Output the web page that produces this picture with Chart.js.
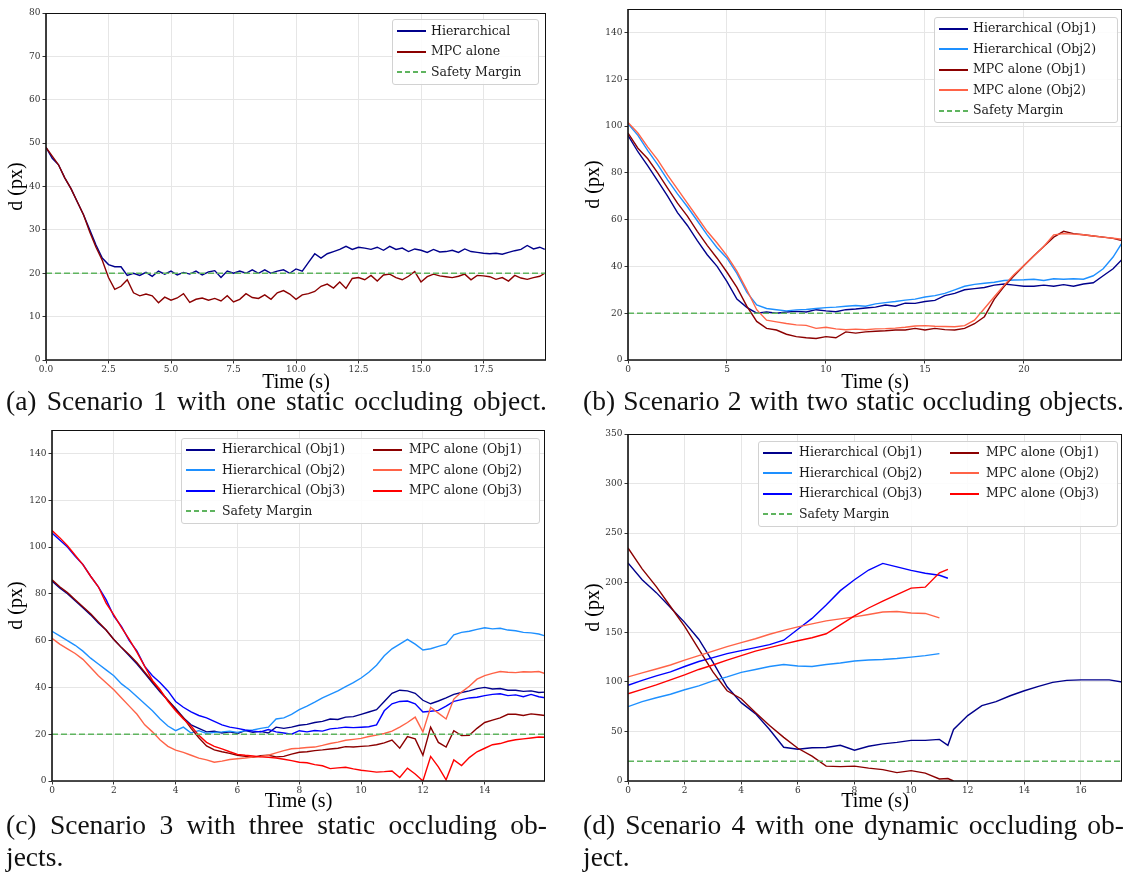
<!DOCTYPE html>
<html>
<head>
<meta charset="utf-8">
<script src="https://cdn.jsdelivr.net/npm/chart.js@4.4.1/dist/chart.umd.min.js"></script>
<style>
  html, body { margin:0; padding:0; background:#fff; }
  body { width:1130px; height:873px; position:relative; overflow:hidden; }
  .panel { position:absolute; width:560px; height:395px; }
  .panel canvas { display:block; }
  .cap { position:absolute; width:541px; font-family:'Liberation Serif', serif; font-size:27.5px; line-height:32px; color:#111;
         text-align:justify; text-align-last:justify; }
  .cap.last { text-align:left; text-align-last:left; }
  .legend { position:absolute; background:rgba(255,255,255,0.85); border:1px solid #d2d2d2; border-radius:3px; box-sizing:border-box; }
  .legend .h { position:absolute; height:2px; }
  .legend .t { position:absolute; font-family:'DejaVu Serif', serif; font-size:12.5px; line-height:16px; color:#1a1a1a; white-space:nowrap; }
</style>
</head>
<body>
<div class="panel" id="pA" style="left:0px;top:0px;"><canvas id="cA" width="560" height="395"></canvas></div>
<div class="panel" id="pB" style="left:570px;top:0px;"><canvas id="cB" width="560" height="395"></canvas></div>
<div class="panel" id="pC" style="left:0px;top:421px;"><canvas id="cC" width="560" height="395"></canvas></div>
<div class="panel" id="pD" style="left:570px;top:421px;"><canvas id="cD" width="560" height="395"></canvas></div>

<div class="cap" style="left:6px;top:384.7px;">(a) Scenario 1 with one static occluding object.</div>
<div class="cap" style="left:583px;top:384.7px;">(b) Scenario 2 with two static occluding objects.</div>
<div class="cap" style="left:6px;top:808.7px;">(c) Scenario 3 with three static occluding ob-</div>
<div class="cap last" style="left:6px;top:841.2px;">jects.</div>
<div class="cap" style="left:583px;top:808.7px;">(d) Scenario 4 with one dynamic occluding ob-</div>
<div class="cap last" style="left:583px;top:841.2px;">ject.</div>

<script>
// ---------------- DATA ----------------
const safetyMargin = 20;

// (a) Scenario 1
const timeA = [0,0.25,0.5,0.75,1,1.25,1.5,1.75,2,2.25,2.5,2.75,3,3.25,3.5,3.75,4,4.25,4.5,4.75,
  5,5.25,5.5,5.75,6,6.25,6.5,6.75,7,7.25,7.5,7.75,8,8.25,8.5,8.75,9,9.25,9.5,9.75,
  10,10.25,10.5,10.75,11,11.25,11.5,11.75,12,12.25,12.5,12.75,13,13.25,13.5,13.75,14,14.25,14.5,14.75,
  15,15.25,15.5,15.75,16,16.25,16.5,16.75,17,17.25,17.5,17.75,18,18.25,18.5,18.75,19,19.25,19.5,19.75,19.95];
const hierA = [49,46.5,45,42,39.5,36.5,33.5,30,26.5,23.5,22,21.5,21.5,19.5,20,19.5,20.2,19.3,20.5,19.8,
  20.5,19.6,20.2,19.8,20.5,19.6,20.3,20.6,19,20.5,20,20.5,20,20.8,20,20.8,20,20.5,20.8,20,
  21,20.5,22.5,24.5,23.5,24.5,25,25.5,26.2,25.5,26,25.8,25.5,26,25.3,26.2,25.5,25.8,25,25.6,
  25.3,24.8,25.5,24.9,25,25.3,24.8,25.6,25,24.8,24.6,24.5,24.6,24.4,24.8,25.2,25.5,26.4,25.6,26,25.5];
const mpcA = [49,47,45,42,39.5,36.5,33.5,29.5,26,23,19,16.3,17,18.5,15.5,14.8,15.2,14.8,13.2,14.5,
  13.8,14.3,15.3,13.3,14,14.3,13.8,14.2,13.6,14.8,13.4,14,15.3,14.4,14.2,15,14,15.5,16,15.2,
  14,15,15.3,15.8,17,17.5,16.6,18,16.5,18.8,19,18.5,19.5,18.2,19.6,19.8,19,18.5,19.3,20.4,
  18,19.2,19.8,19.4,19.2,19,19.3,19.8,18.5,19.5,19.4,19.2,18.6,19,18.2,19.5,18.9,18.6,19,19.3,20];

// (b) Scenario 2
const timeB = [0,0.5,1,1.5,2,2.5,3,3.5,4,4.5,5,5.5,6,6.5,7,7.5,8,8.5,9,9.5,
  10,10.5,11,11.5,12,12.5,13,13.5,14,14.5,15,15.5,16,16.5,17,17.5,18,18.5,19,19.5,
  20,20.5,21,21.5,22,22.5,23,23.5,24,24.5,24.95];
const hierB1 = [96,89,83,76.5,70,63,57.5,51,45,40,33.5,26,22.5,20,20.5,20,20.5,20.8,20.5,21.5,
  21,20.6,21.5,21.8,22.2,22.6,23.5,23,24.3,24.2,25,25.5,27.5,28.5,30,30.5,31,32,32.5,32,
  31.5,31.5,32,31.5,32.2,31.5,32.5,33,36,39,43];
const hierB2 = [101,96,89.5,83.5,77,71,65.5,59.5,53.5,48,43.5,37,29,23.5,22,21.5,21,21.4,21.6,22,
  22.4,22.6,23,23.3,23,24,24.5,25,25.6,26,26.9,27.5,28.5,30,31.5,32.3,32.8,33.2,34,34.2,
  34.3,34.5,34,34.7,34.5,34.7,34.5,36,39,44,50];
const mpcB1 = [97,90.5,86,80,73.5,67,61.5,55,49,43.5,37.5,31,23,16.5,13.5,12.8,11,10,9.5,9.2,
  10,9.5,12,11.5,12,12.3,12.5,12.8,12.8,13.5,12.8,13.5,13,12.8,13.5,15.5,18.5,26,31.5,36,
  40.4,44.5,48.5,52.5,55,54,53.5,53,52.5,52,51];
const mpcB2 = [101.5,97,91,85.5,79,73,67,61,55,50,44.5,38,30,21.5,17,16.3,15.6,15,14.8,13.5,
  14,13.3,12.9,13.2,12.9,13.3,13.4,13.6,14,14.5,14.7,14.4,14.3,14.2,14.7,17,22,27,32,36.5,
  40.4,44.5,48.5,53.5,54,53.8,53.5,53,52.5,52,51.6];

// (c) Scenario 3
const timeC = [0,0.25,0.5,0.75,1,1.25,1.5,1.75,2,2.25,2.5,2.75,3,3.25,3.5,3.75,4,4.25,4.5,4.75,
  5,5.25,5.5,5.75,6,6.25,6.5,6.75,7,7.25,7.5,7.75,8,8.25,8.5,8.75,9,9.25,9.5,9.75,
  10,10.25,10.5,10.75,11,11.25,11.5,11.75,12,12.25,12.5,12.75,13,13.25,13.5,13.75,14,14.25,14.5,14.75,
  15,15.25,15.5,15.75,15.95];
const hierC1 = [85.5,82.5,80,77,74,71,67.5,64.5,60.5,57,53.5,50,46,42,38,34.5,31,27,24,22.5,
  21,21.3,20.5,21,20.3,21.5,20.8,21.2,20.5,23,22.5,23,23.8,24.2,25,25.5,26.5,26.3,27.3,27.5,
  28.5,29.5,30.5,34,37.5,38.8,38.5,37.5,34.5,33,34.2,35.5,37,37.8,38.5,39.5,40,39.3,39.5,38.8,
  38.8,38.3,38.5,37.8,38];
const hierC2 = [64,62,60,58,55.5,52.5,50,47.5,45,41.5,39,36,33,30,26.5,23.5,21.5,23,20.5,21.5,
  20.3,20.8,21,21.3,20.8,21.5,21.8,22.5,23,26.5,27,28.5,30.5,32,33.7,35.5,37,38.5,40.3,42,
  44,46.5,49.5,53.5,56.5,58.5,60.5,58.5,56,56.5,57.5,58.5,62.5,63.5,64,64.8,65.5,65,65.3,64.5,
  64.2,63.5,63.3,62.8,62];
const hierC3 = [106,103,100,96,92.5,87.5,83,77.5,70.5,66,60,55.5,49,45,42,38.5,34,31.5,29.5,28,
  27,25.5,24,23,22.5,21.8,21.3,21,22,21,20.5,20,21.5,21,21.6,21.3,22.3,22.6,23,22.8,
  23,23.2,24,30,33,34,34.2,33,29.5,29.8,30.2,32,34,34.8,35.5,35.8,36.5,37,37.3,36.5,
  36.8,36,37,36,35.6];
const mpcC1 = [86,83,80.5,77.5,74.5,71.5,68,64.5,60.5,57,54,50.5,46.5,42.5,38.5,34.5,30.5,27,22.5,18.5,
  15,13.3,12.5,11.8,11,10.5,10.1,10.8,11,10.3,10.5,11.5,12.3,12.5,13,13.3,13.7,14,14.7,14.5,
  14.8,15,15.5,16.3,17.5,14,19,18,11,23,16.5,14.5,21.5,19.4,19.5,22.5,25,26,27,28.5,
  28.5,28,28.7,28.3,28];
const mpcC2 = [61,58.5,56.5,54.5,52,48.5,45,42,39,35.5,32,28.5,24,21,17.5,14.8,13.2,12.2,11,9.8,
  9,8,8.5,9.2,9.5,9.8,10.2,10.5,11,12,13,13.8,14,14.3,14.5,15.2,16,16.6,17.4,17.8,
  18.2,19,19.6,20.3,21.3,23,25,27.3,21,31.5,29,26.5,35,38,40.5,43.5,45,46,46.8,46.5,
  46.3,46.7,46.6,46.8,45.9];
const mpcC3 = [107,104,100.5,96.5,92.5,87.5,83,76,71,65.5,60.5,55,49,43,39,34,30,26.5,23.5,19.5,
  16.5,14.8,13.7,12.5,11.4,11,10.7,10.3,10.1,9.8,9.3,8.7,8,7.8,7,6.5,5.3,5.6,5.9,5.2,
  4.6,4.2,3.8,4,4.3,1.5,5.5,3,0,10.5,6,0.5,9,6.6,10,12.5,14,15.5,16,17,
  17.6,18,18.4,18.8,18.7];

// (d) Scenario 4
const timeD = [0,0.5,1,1.5,2,2.5,3,3.5,4,4.5,5,5.5,6,6.5,7,7.5,8,8.5,9,9.5,10,10.5,11,
  11.3,11.5,12,12.5,13,13.5,14,14.5,15,15.5,16,16.5,17,17.5];
const hierD1 = [220,203,190,175,160,143,120,95,79,68,52,34,32,33.5,33.8,36,31,35,37.5,39,41,41,42,
  36,52,66,76,80,86,91,95.5,99.5,101.5,102,102,102,99.7];
const hierD2 = [75,80,84,87.5,92,96,101,105,109.5,112.5,115.5,117.5,116,115.5,117.5,119,121,122,122.5,123.5,125,126.5,128.5,
  null,null,null,null,null,null,null,null,null,null,null,null,null,null];
const hierD3 = [96.5,101.5,106,110,115.5,120.5,124.5,128.5,131.5,134.5,137.5,142,153,164,177.5,192,203,212.8,219.5,216,212.5,209.5,207.5,
  204.5,null,null,null,null,null,null,null,null,null,null,null,null,null];
const mpcD1 = [235,214,196,176,156,133,110,91,83,69,56,44,33,25,15,14.5,15,13,11.5,8.5,10.5,8,2,
  2.5,0,null,null,null,null,null,null,null,null,null,null,null,null];
const mpcD2 = [105,109,113,117,122,126.5,131,135.5,139.5,143.5,148,152,155.5,158.5,161.5,163.5,165.5,168,170.5,171,169.5,169,164.5,
  null,null,null,null,null,null,null,null,null,null,null,null,null,null];
const mpcD3 = [88,92.5,97,102,107,112.5,117,122,126.5,131,134.5,138,141.5,144.5,148.5,157.5,166.5,174.5,181.5,188,194.5,195.5,210,
  213.5,null,null,null,null,null,null,null,null,null,null,null,null,null];

// Tick values and labels
const xTicksA = [0,2.5,5,7.5,10,12.5,15,17.5];
const xLabelsA = ['0.0','2.5','5.0','7.5','10.0','12.5','15.0','17.5'];
const yTicksA = [0,10,20,30,40,50,60,70,80];
const yLabelsA = ['0','10','20','30','40','50','60','70','80'];
const xTicksB = [0,5,10,15,20];
const xLabelsB = ['0','5','10','15','20'];
const yTicksBC = [0,20,40,60,80,100,120,140];
const yLabelsBC = ['0','20','40','60','80','100','120','140'];
const xTicksC = [0,2,4,6,8,10,12,14];
const xLabelsC = ['0','2','4','6','8','10','12','14'];
const xTicksD = [0,2,4,6,8,10,12,14,16];
const xLabelsD = ['0','2','4','6','8','10','12','14','16'];
const yTicksD = [0,50,100,150,200,250,300,350];
const yLabelsD = ['0','50','100','150','200','250','300','350'];

// ---------------- STYLE ----------------
const C = {
  hier1:'#00008B', hier2:'#1E90FF', hier3:'#0000FF',
  mpc1:'#8B0000', mpc2:'#FF6347', mpc3:'#FF0000', safety:'#5fb45f'
};
const SERIF = 'DejaVu Serif';
const TITLEF = 'Liberation Serif';

const framePlugin = {
  id: 'frame',
  afterDatasetsDraw(chart) {
    const {ctx, chartArea: a} = chart;
    ctx.save();
    ctx.strokeStyle = '#111';
    ctx.lineWidth = 1;
    ctx.beginPath();
    ctx.moveTo(a.left, a.top + 0.5); ctx.lineTo(a.right, a.top + 0.5);
    ctx.moveTo(a.right - 0.5, a.top); ctx.lineTo(a.right - 0.5, a.bottom);
    ctx.stroke();
    ctx.lineWidth = 1.6;
    ctx.beginPath();
    ctx.moveTo(a.left, a.top); ctx.lineTo(a.left, a.bottom);
    ctx.moveTo(a.left - 0.8, a.bottom); ctx.lineTo(a.right, a.bottom);
    ctx.stroke();
    ctx.restore();
  }
};

function makeChart(cfg) {
  const n = cfg.series.length;
  const datasets = cfg.series.map((s, i) => ({
    label: s.label,
    data: cfg.time.map((t, j) => ({x: t, y: s.values[j]})),
    borderColor: s.color,
    borderWidth: 1.4,
    pointRadius: 0,
    tension: 0,
    fill: false,
    spanGaps: false,
    order: n - i + 1
  }));
  datasets.push({
    label: 'Safety Margin',
    data: [{x: 0, y: safetyMargin}, {x: cfg.xMax, y: safetyMargin}],
    borderColor: C.safety,
    borderWidth: 1.5,
    borderDash: [6, 3],
    pointRadius: 0,
    order: 0
  });
  return new Chart(document.getElementById(cfg.canvas), {
    type: 'line',
    data: { datasets },
    plugins: [framePlugin],
    options: {
      responsive: false,
      animation: false,
      devicePixelRatio: 1,
      layout: { padding: { left: 0, right: cfg.padR, top: cfg.padT, bottom: 0 } },
      plugins: { legend: { display: false }, tooltip: { enabled: false } },
      scales: {
        x: {
          type: 'linear', min: 0, max: cfg.xMax,
          afterBuildTicks: s => { s.ticks = cfg.xTicks.map(v => ({value: v})); },
          afterFit: s => { s.height = 35; },
          ticks: {
            autoSkip: false, maxRotation: 0, padding: 1,
            font: { family: SERIF, size: 9 }, color: '#333',
            callback: v => cfg.xLabels[cfg.xTicks.indexOf(v)]
          },
          grid: { color: '#e6e6e6', lineWidth: 1, tickColor: '#333', tickLength: 3.5 },
          border: { display: false },
          title: { display: true, text: 'Time (s)', color: '#000',
                   font: { family: TITLEF, size: 20 }, padding: { top: 0, bottom: cfg.xTitlePad } }
        },
        y: {
          type: 'linear', min: 0, max: cfg.yMax,
          afterBuildTicks: s => { s.ticks = cfg.yTicks.map(v => ({value: v})); },
          afterFit: s => { s.width = cfg.yW; },
          ticks: {
            autoSkip: false, padding: 2,
            font: { family: SERIF, size: 9 }, color: '#333',
            callback: v => cfg.yLabels[cfg.yTicks.indexOf(v)]
          },
          grid: { color: '#e6e6e6', lineWidth: 1, tickColor: '#333', tickLength: 3.5 },
          border: { display: false },
          title: { display: true, text: 'd (px)', color: '#000',
                   font: { family: TITLEF, size: 20 }, padding: { top: cfg.yTitlePad, bottom: 0 } }
        }
      }
    }
  });
}

function makeLegend(box, items) {
  const lg = document.createElement('div');
  lg.className = 'legend';
  lg.style.left = box.left + 'px'; lg.style.top = box.top + 'px';
  lg.style.width = box.w + 'px'; lg.style.height = box.h + 'px';
  items.forEach(it => {
    const col = box.cols[it.col];
    const cy = box.row0 + it.row * box.pitch;
    const h = document.createElement('div');
    h.className = 'h';
    h.style.left = Math.round(col.hx - 1) + 'px'; h.style.width = col.hw + 'px';
    h.style.top = Math.round(cy - 2) + 'px';
    h.style.background = it.dashed
      ? `repeating-linear-gradient(90deg, ${it.color} 0 5px, transparent 5px 8px)`
      : it.color;
    const t = document.createElement('div');
    t.className = 't';
    t.textContent = it.label;
    t.style.left = (col.tx - 1) + 'px'; t.style.top = (cy - 9.5) + 'px';
    lg.appendChild(h); lg.appendChild(t);
  });
  document.body.appendChild(lg);
}

// ---------------- CHARTS ----------------
makeChart({
  canvas: 'cA', time: timeA, xMax: 20, yMax: 80,
  xTicks: xTicksA, xLabels: xLabelsA, yTicks: yTicksA, yLabels: yLabelsA,
  yW: 46, padR: 14, padT: 13, xTitlePad: 0.75, yTitlePad: 5,
  series: [
    {label: 'Hierarchical', color: C.hier1, values: hierA},
    {label: 'MPC alone', color: C.mpc1, values: mpcA}
  ]
});
makeChart({
  canvas: 'cB', time: timeB, xMax: 24.95, yMax: 150,
  xTicks: xTicksB, xLabels: xLabelsB, yTicks: yTicksBC, yLabels: yLabelsBC,
  yW: 58, padR: 8, padT: 9, xTitlePad: 0.75, yTitlePad: 12,
  series: [
    {label: 'Hierarchical (Obj1)', color: C.hier1, values: hierB1},
    {label: 'Hierarchical (Obj2)', color: C.hier2, values: hierB2},
    {label: 'MPC alone (Obj1)', color: C.mpc1, values: mpcB1},
    {label: 'MPC alone (Obj2)', color: C.mpc2, values: mpcB2}
  ]
});
makeChart({
  canvas: 'cC', time: timeC, xMax: 15.95, yMax: 150,
  xTicks: xTicksC, xLabels: xLabelsC, yTicks: yTicksBC, yLabels: yLabelsBC,
  yW: 52, padR: 15, padT: 9, xTitlePad: 2.75, yTitlePad: 5,
  series: [
    {label: 'Hierarchical (Obj1)', color: C.hier1, values: hierC1},
    {label: 'Hierarchical (Obj2)', color: C.hier2, values: hierC2},
    {label: 'Hierarchical (Obj3)', color: C.hier3, values: hierC3},
    {label: 'MPC alone (Obj1)', color: C.mpc1, values: mpcC1},
    {label: 'MPC alone (Obj2)', color: C.mpc2, values: mpcC2},
    {label: 'MPC alone (Obj3)', color: C.mpc3, values: mpcC3}
  ]
});
makeChart({
  canvas: 'cD', time: timeD, xMax: 17.45, yMax: 350,
  xTicks: xTicksD, xLabels: xLabelsD, yTicks: yTicksD, yLabels: yLabelsD,
  yW: 58, padR: 8, padT: 13, xTitlePad: 2.75, yTitlePad: 12,
  series: [
    {label: 'Hierarchical (Obj1)', color: C.hier1, values: hierD1},
    {label: 'Hierarchical (Obj2)', color: C.hier2, values: hierD2},
    {label: 'Hierarchical (Obj3)', color: C.hier3, values: hierD3},
    {label: 'MPC alone (Obj1)', color: C.mpc1, values: mpcD1},
    {label: 'MPC alone (Obj2)', color: C.mpc2, values: mpcD2},
    {label: 'MPC alone (Obj3)', color: C.mpc3, values: mpcD3}
  ]
});

// ---------------- LEGENDS ----------------
const oneCol = [{hx: 5, hw: 29, tx: 39}];
const twoCol = [{hx: 5, hw: 29, tx: 41}, {hx: 192, hw: 29, tx: 228}];
makeLegend({left: 392, top: 19, w: 147, h: 66, row0: 12, pitch: 20.5, cols: oneCol}, [
  {label: 'Hierarchical', color: C.hier1, col: 0, row: 0},
  {label: 'MPC alone', color: C.mpc1, col: 0, row: 1},
  {label: 'Safety Margin', color: C.safety, dashed: true, col: 0, row: 2}
]);
makeLegend({left: 934, top: 17, w: 184, h: 106, row0: 11.5, pitch: 20.5, cols: oneCol}, [
  {label: 'Hierarchical (Obj1)', color: C.hier1, col: 0, row: 0},
  {label: 'Hierarchical (Obj2)', color: C.hier2, col: 0, row: 1},
  {label: 'MPC alone (Obj1)', color: C.mpc1, col: 0, row: 2},
  {label: 'MPC alone (Obj2)', color: C.mpc2, col: 0, row: 3},
  {label: 'Safety Margin', color: C.safety, dashed: true, col: 0, row: 4}
]);
makeLegend({left: 181, top: 438, w: 359, h: 86, row0: 11.5, pitch: 20.6, cols: twoCol}, [
  {label: 'Hierarchical (Obj1)', color: C.hier1, col: 0, row: 0},
  {label: 'Hierarchical (Obj2)', color: C.hier2, col: 0, row: 1},
  {label: 'Hierarchical (Obj3)', color: C.hier3, col: 0, row: 2},
  {label: 'Safety Margin', color: C.safety, dashed: true, col: 0, row: 3},
  {label: 'MPC alone (Obj1)', color: C.mpc1, col: 1, row: 0},
  {label: 'MPC alone (Obj2)', color: C.mpc2, col: 1, row: 1},
  {label: 'MPC alone (Obj3)', color: C.mpc3, col: 1, row: 2}
]);
makeLegend({left: 758, top: 441, w: 360, h: 86, row0: 11.5, pitch: 20.6, cols: twoCol}, [
  {label: 'Hierarchical (Obj1)', color: C.hier1, col: 0, row: 0},
  {label: 'Hierarchical (Obj2)', color: C.hier2, col: 0, row: 1},
  {label: 'Hierarchical (Obj3)', color: C.hier3, col: 0, row: 2},
  {label: 'Safety Margin', color: C.safety, dashed: true, col: 0, row: 3},
  {label: 'MPC alone (Obj1)', color: C.mpc1, col: 1, row: 0},
  {label: 'MPC alone (Obj2)', color: C.mpc2, col: 1, row: 1},
  {label: 'MPC alone (Obj3)', color: C.mpc3, col: 1, row: 2}
]);
</script>
</body>
</html>
